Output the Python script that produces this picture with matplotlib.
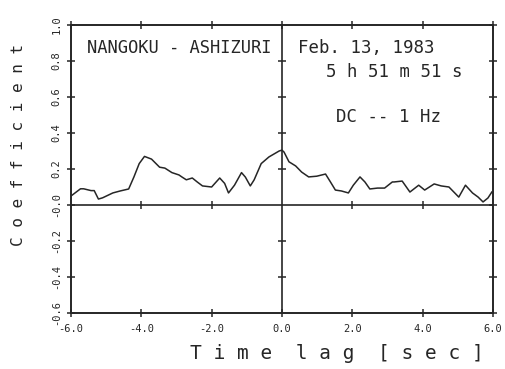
import matplotlib
matplotlib.use("Agg")
import matplotlib.pyplot as plt

# cross-correlation coefficient
lag = [-6.0, -5.73, -5.64, -5.43, -5.34, -5.22, -5.10, -4.81, -4.60, -4.36,
       -4.21, -4.06, -3.91, -3.71, -3.48, -3.33, -3.13, -2.93, -2.84, -2.72,
       -2.55, -2.41, -2.26, -2.0, -1.77, -1.63, -1.52, -1.35, -1.15, -1.04,
       -0.90, -0.79, -0.59, -0.37, -0.08, 0.0, 0.06, 0.20, 0.39, 0.56,
       0.76, 0.99, 1.24, 1.38, 1.52, 1.69, 1.89, 2.03, 2.22, 2.36,
       2.50, 2.72, 2.92, 3.14, 3.19, 3.42, 3.64, 3.89, 4.06, 4.33,
       4.53, 4.75, 5.03, 5.22, 5.42, 5.58, 5.72, 5.86, 5.97]
coef = [0.05, 0.09, 0.09, 0.08, 0.08, 0.033, 0.04, 0.067, 0.078, 0.089,
        0.156, 0.23, 0.27, 0.255, 0.21, 0.205, 0.18, 0.167, 0.155, 0.14,
        0.15, 0.128, 0.106, 0.10, 0.15, 0.12, 0.067, 0.11, 0.18, 0.155,
        0.106, 0.14, 0.23, 0.267, 0.30, 0.305, 0.294, 0.24, 0.217, 0.183,
        0.156, 0.16, 0.172, 0.128, 0.083, 0.078, 0.067, 0.11, 0.156, 0.128,
        0.089, 0.094, 0.094, 0.128, 0.128, 0.133, 0.072, 0.11, 0.083, 0.117,
        0.106, 0.10, 0.044, 0.11, 0.067, 0.044, 0.017, 0.039, 0.072]

x_ticks = [-6, -4, -2, 0, 2, 4, 6]
x_labels = ['-6.0', '-4.0', '-2.0', '0.0', '2.0', '4.0', '6.0']
y_ticks = [-0.6, -0.4, -0.2, 0.0, 0.2, 0.4, 0.6, 0.8, 1.0]
y_labels = ['-0.6', '-0.4', '-0.2', '-0.0', '0.2', '0.4', '0.6', '0.8', '1.0']

ink = '#262626'
mono = 'DejaVu Sans Mono'

fig = plt.figure(figsize=(5.05, 3.69), dpi=100)
ax = fig.add_axes([0.1406, 0.1518, 0.8354, 0.7804])

ax.plot(lag, coef, color=ink, lw=1.1)
ax.axhline(0, color=ink, lw=1.2)
ax.axvline(0, color=ink, lw=1.2)

# cross ticks along the zero lines
inner_x = [t for t in x_ticks if t not in (-6, 0, 6)]
inner_y = [t for t in y_ticks if t not in (-0.6, 0.0, 1.0)]
ax.plot(inner_x, [0] * len(inner_x), ls='none', marker='|', ms=6, mew=1.1, color=ink)
ax.plot([0] * len(inner_y), inner_y, ls='none', marker='_', ms=6, mew=1.1, color=ink)

ax.set_xlim(-6, 6)
ax.set_ylim(-0.6, 1.0)
ax.set_xticks(x_ticks)
ax.set_xticklabels(x_labels, fontfamily=mono, fontsize=7.5, color=ink)
ax.set_yticks(y_ticks)
ax.set_yticklabels(y_labels, fontfamily=mono, fontsize=7.5, color=ink,
                   rotation=90, va='center')
ax.tick_params(direction='inout', length=6, width=1.1, colors=ink,
               top=True, right=True, pad=5)
ax.tick_params(axis='y', pad=4)
for s in ax.spines.values():
    s.set_color(ink)
    s.set_linewidth(1.4)

ax.text(0.038, 0.92, 'NANGOKU - ASHIZURI', transform=ax.transAxes,
        fontfamily=mono, fontsize=12.3, color=ink, va='center', ha='left')
ax.text(0.538, 0.92, 'Feb. 13, 1983', transform=ax.transAxes,
        fontfamily=mono, fontsize=12.5, color=ink, va='center', ha='left')
ax.text(0.929, 0.837, '5 h 51 m 51 s', transform=ax.transAxes,
        fontfamily=mono, fontsize=12.5, color=ink, va='center', ha='right')
ax.text(0.628, 0.68, 'DC -- 1 Hz', transform=ax.transAxes,
        fontfamily=mono, fontsize=12.5, color=ink, va='center', ha='left')

fig.text(0.667, 0.043, 'T i m e  l a g  [ s e c ]', fontfamily=mono,
         fontsize=14, color=ink, ha='center', va='center')
fig.text(0.036, 0.607, 'C o e f f i c i e n t', fontfamily=mono,
         fontsize=11.5, color=ink, ha='center', va='center', rotation=90)

fig.savefig('out.png', dpi=100, facecolor='white')
